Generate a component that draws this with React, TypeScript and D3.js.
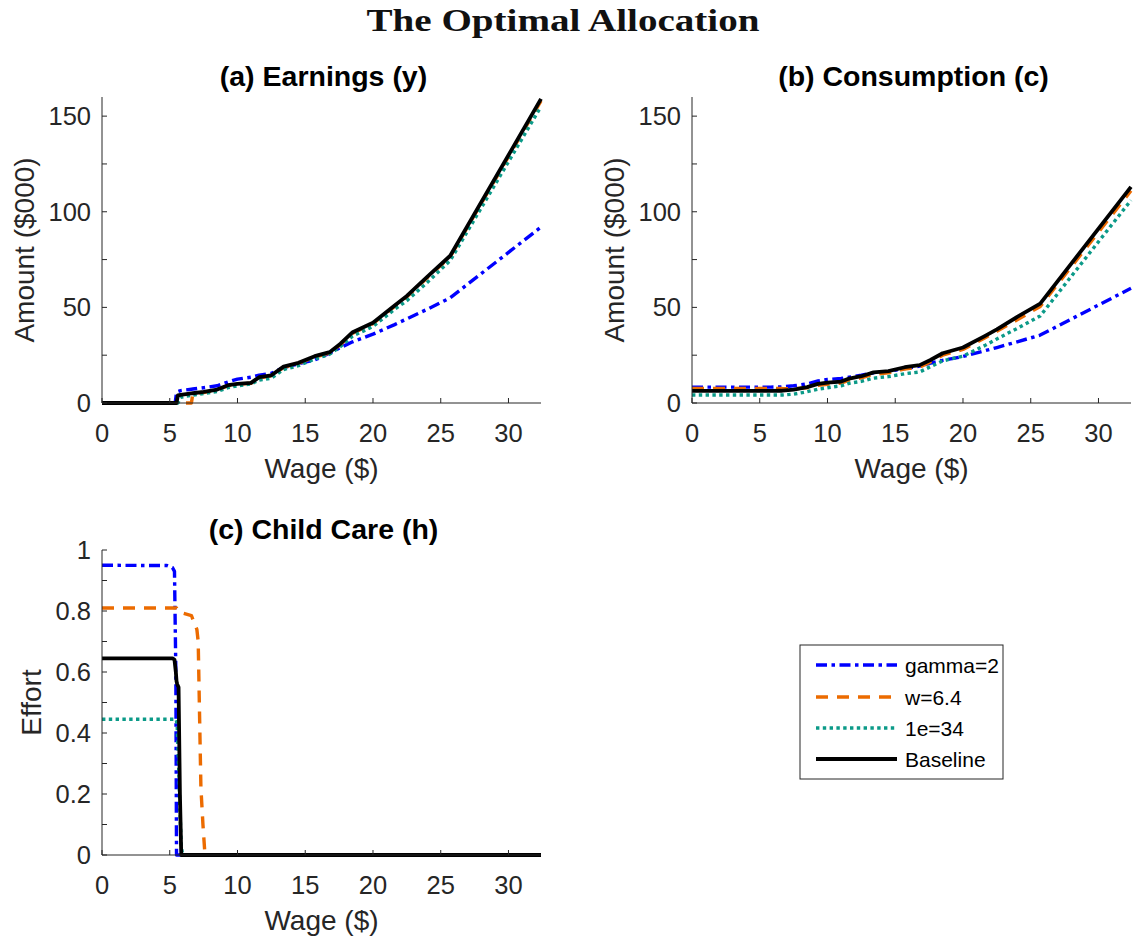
import React from 'react';
import * as d3 from 'd3';

// wage grid shared by panels (a) and (b)
const wageAB = [0, 5.4, 5.5, 5.6, 5.8, 6.6, 6.7, 7.5, 8.5, 9.3, 10, 11, 11.6, 12.5, 13.4, 14.5, 15.7, 16.8, 17.6, 18.5, 20, 21.6, 22.5, 24, 25.7, 32.4];

// (a) earnings, $000
const earnGamma = [0, 0, 5.5, 6, 6.5, 7.2, 7.3, 8, 9, 11, 12.5, 13.5, 14.5, 15.5, 18.5, 20.5, 22.5, 26, 29, 32, 36, 41, 44, 49, 55, 92];
const earnWage = [0, 0, 0, 0, 0, 0, 4.8, 5.5, 6.8, 9, 9.8, 10.3, 13, 14.2, 18.5, 20.7, 24, 26.2, 30.5, 36.5, 41.5, 50.5, 55.5, 65.5, 76.5, 158];
const earnE34 = [0, 0, 0, 0, 3, 4, 4.1, 5, 6, 8, 9, 10, 12, 13, 17.5, 19.5, 23, 25.5, 29.5, 35, 40, 49, 53.5, 63, 74.5, 155];
const earnBase = [0, 0, 0, 4, 4.3, 5, 5.1, 5.8, 7, 9.3, 10, 10.5, 13.5, 14.5, 19, 21, 24.5, 26.6, 31, 37, 42, 51, 56, 66, 77, 159];

// (b) consumption, $000
const consGamma = [8.3, 8.3, 8.3, 8.3, 8.3, 8.4, 8.5, 9, 10, 11.5, 12.3, 12.8, 13.5, 14.5, 15.8, 16.5, 18, 19.3, 20.8, 22.3, 24.3, 27.3, 29, 32, 35.5, 60];
const consWage = [7.6, 7.6, 7.6, 7.6, 7.6, 7.6, 7.5, 7.5, 7.9, 9.2, 9.8, 10.4, 12, 13.2, 15, 15.8, 17.8, 18.8, 21.5, 25, 28, 34, 37.5, 43.5, 50.5, 111];
const consE34 = [4.2, 4.2, 4.2, 4.2, 4.2, 4.2, 4.2, 4.6, 5.9, 7.2, 8, 9, 10.3, 11.3, 13, 13.8, 15.3, 16.2, 19, 22, 24.5, 30, 33.5, 39, 45.5, 106];
const consBase = [6.3, 6.3, 6.3, 6.3, 6.3, 6.4, 6.5, 7, 8.3, 10, 10.6, 11.2, 12.8, 14, 16, 16.7, 18.7, 19.8, 22.5, 26, 29, 35, 38.5, 45, 52, 113];

// (c) child care effort
const wageC = [0, 4.8, 5.2, 5.35, 5.45, 5.5, 5.55, 5.65, 5.75, 5.85, 5.95, 6.6, 7.0, 7.1, 7.3, 7.45, 7.6, 32.4];
const careGamma = [0.95, 0.949, 0.942, 0.93, 0.6, 0, 0, 0, 0, 0, 0, 0, 0, 0, 0, 0, 0, 0];
const careWage = [0.81, 0.81, 0.81, 0.81, 0.81, 0.81, 0.805, 0.8, 0.797, 0.795, 0.793, 0.785, 0.74, 0.7, 0.22, 0.1, 0, 0];
const careE34 = [0.445, 0.445, 0.445, 0.445, 0.445, 0.44, 0.42, 0.3, 0.15, 0.03, 0, 0, 0, 0, 0, 0, 0, 0];
const careBase = [0.645, 0.645, 0.645, 0.64, 0.6, 0.57, 0.56, 0.55, 0.2, 0, 0, 0, 0, 0, 0, 0, 0, 0];

const seriesNames = ['gamma=2', 'w=6.4', '1e=34', 'Baseline'];
const xTicks = [0, 5, 10, 15, 20, 25, 30];
const amountTicks = [0, 25, 50, 75, 100, 125, 150];
const amountLabels = [0, 50, 100, 150];
const effortTicks = [0, 0.1, 0.2, 0.3, 0.4, 0.5, 0.6, 0.7, 0.8, 0.9, 1];
const effortLabels = [0, 0.2, 0.4, 0.6, 0.8, 1];

const styles = [
  { color: '#0000ff', dash: '11 4.5 3.5 4.5', width: 3.4 },
  { color: '#ec6b00', dash: '12 9', width: 3.4 },
  { color: '#0b9a88', dash: '3.4 3.4', width: 3.4 },
  { color: '#000000', dash: null as string | null, width: 3.8 },
];

const AX = '#262626';
const SANS = '"Liberation Sans", Arial, sans-serif';

type PanelProps = {
  left: number; top: number; width: number; height: number;
  title: string; ylabel: string; ylabelX: number;
  wages: number[]; series: number[][];
  yMax: number; yTicks: number[]; yLabels: number[];
};

function Panel(p: PanelProps) {
  const x = d3.scaleLinear().domain([0, 32.4]).range([p.left, p.left + p.width]);
  const y = d3.scaleLinear().domain([0, p.yMax]).range([p.top + p.height, p.top]);
  const bottom = p.top + p.height;
  const line = d3.line<number>().x((_, i) => x(p.wages[i])).y(d => y(d));
  return (
    <g>
      <text x={p.left + p.width / 2 + 2} y={p.top - 11} textAnchor="middle" fontFamily={SANS}
        fontWeight="bold" fontSize={28.5} fill="#000">{p.title}</text>
      {p.series.map((s, i) => (
        <path key={i} d={line(s) || ''} fill="none" stroke={styles[i].color}
          strokeWidth={styles[i].width} strokeDasharray={styles[i].dash || undefined}
          strokeLinejoin="round" />
      ))}
      <line x1={p.left} x2={p.left} y1={p.top} y2={bottom} stroke={AX} strokeWidth={1} />
      <line x1={p.left} x2={p.left + p.width} y1={bottom} y2={bottom} stroke={AX} strokeWidth={1} />
      {p.yTicks.map(t => (
        <line key={'yt' + t} x1={p.left} x2={p.left + 5} y1={y(t)} y2={y(t)} stroke={AX} strokeWidth={1} />
      ))}
      {p.yLabels.map(t => (
        <text key={'yl' + t} x={p.left - 11} y={y(t) + 9} textAnchor="end" fontFamily={SANS}
          fontSize={25.5} fill={AX}>{t}</text>
      ))}
      {xTicks.map(t => (
        <g key={'xt' + t}>
          <line x1={x(t)} x2={x(t)} y1={bottom} y2={bottom - 5} stroke={AX} strokeWidth={1} />
          <text x={x(t)} y={bottom + 39} textAnchor="middle" fontFamily={SANS} fontSize={25.5} fill={AX}>{t}</text>
        </g>
      ))}
      <text x={p.left + p.width / 2} y={bottom + 75} textAnchor="middle" fontFamily={SANS}
        fontSize={28} fill={AX}>Wage ($)</text>
      <text transform={`translate(${p.ylabelX},${p.top + p.height / 2}) rotate(-90)`} textAnchor="middle"
        fontFamily={SANS} fontSize={28} fill={AX}>{p.ylabel}</text>
    </g>
  );
}

export default function App() {
  const legendY = [665, 697, 728, 759];
  return (
    <svg width={1135} height={939} style={{ position: 'absolute', left: 0, top: 0, background: '#fff' }}>
      <rect width={1135} height={939} fill="#fff" />
      <text x={563} y={31} textAnchor="middle" fontFamily='"Liberation Serif", "DejaVu Serif", serif'
        fontWeight="bold" fontSize={31} textLength={393} lengthAdjust="spacingAndGlyphs" fill="#111">
        The Optimal Allocation
      </text>
      <Panel left={102} top={97} width={439} height={306} title="(a) Earnings (y)" ylabel="Amount ($000)"
        ylabelX={34} wages={wageAB} series={[earnGamma, earnWage, earnE34, earnBase]}
        yMax={160} yTicks={amountTicks} yLabels={amountLabels} />
      <Panel left={692} top={97} width={439} height={306} title="(b) Consumption (c)" ylabel="Amount ($000)"
        ylabelX={624} wages={wageAB} series={[consGamma, consWage, consE34, consBase]}
        yMax={160} yTicks={amountTicks} yLabels={amountLabels} />
      <Panel left={102} top={550} width={439} height={305} title="(c) Child Care (h)" ylabel="Effort"
        ylabelX={41} wages={wageC} series={[careGamma, careWage, careE34, careBase]}
        yMax={1} yTicks={effortTicks} yLabels={effortLabels} />
      <g>
        <rect x={800} y={645} width={203} height={134} fill="#fff" stroke={AX} strokeWidth={1} />
        {seriesNames.map((n, i) => (
          <g key={n}>
            <line x1={816} x2={897} y1={legendY[i]} y2={legendY[i]} stroke={styles[i].color}
              strokeWidth={styles[i].width} strokeDasharray={styles[i].dash || undefined} />
            <text x={905} y={legendY[i] + 7.5} fontFamily={SANS} fontSize={21} fill="#000">{n}</text>
          </g>
        ))}
      </g>
    </svg>
  );
}
